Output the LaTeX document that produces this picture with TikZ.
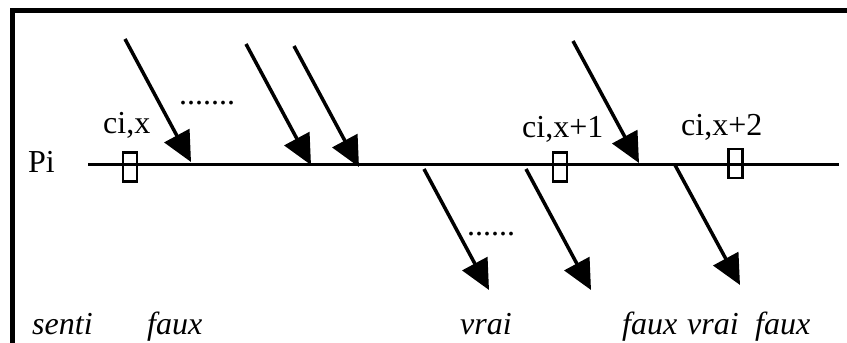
\documentclass[tikz,border=0pt]{standalone}
\usepackage{fontspec}
\setmainfont{Liberation Serif}
\usetikzlibrary{arrows.meta}
\begin{document}
\begin{tikzpicture}[x=1pt,y=-1pt,
  lbl/.style={anchor=base west,inner sep=0pt,font=\fontsize{32}{32}\selectfont},
  ilbl/.style={lbl,font=\fontsize{32}{32}\selectfont\itshape},
  cell/.style={draw,line width=2.5pt,minimum width=14pt,minimum height=29pt,inner sep=0pt},
  arr/.style={line width=3.5pt,-{Triangle[length=30pt,width=28pt]}},
  frame/.style={line width=4.5pt}]
\useasboundingbox (0,0) rectangle (847,343);
% frame
\coordinate (fl) at (12.5,343);
\coordinate (fc) at (12.5,10.5);
\coordinate (fr) at (847,10.5);
\draw[frame] (fl) -- (fc) -- (fr);
% main line
\node[lbl] (pi) at (28,172) {Pi};
\coordinate (ls) at (88,164.5);
\coordinate (le) at (839,164.5);
\draw[line width=3pt] (ls) -- (le);
% cells
\node[cell] (c1) at (130,167) {};
\node[cell] (c2) at (560,167) {};
\node[cell] (c3) at (735.5,163.5) {};
\node[lbl] (l1) at (103,133) {ci,x};
\node[lbl] (l2) at (522,137) {ci,x+1};
\node[lbl] (l3) at (681,135) {ci,x+2};
% incoming arrows
\coordinate (a1s) at (125,39);  \coordinate (a1e) at (191,162);
\coordinate (a2s) at (246,44);  \coordinate (a2e) at (311,165);
\coordinate (a3s) at (294,46);  \coordinate (a3e) at (359,167);
\coordinate (a4s) at (573,41);  \coordinate (a4e) at (639,163);
\draw[arr] (a1s) -- (a1e);
\draw[arr] (a2s) -- (a2e);
\draw[arr] (a3s) -- (a3e);
\draw[arr] (a4s) -- (a4e);
% outgoing arrows
\coordinate (b1s) at (424,169); \coordinate (b1e) at (489,290);
\coordinate (b2s) at (526,169); \coordinate (b2e) at (591,290);
\coordinate (b3s) at (675,165); \coordinate (b3e) at (740,285);
\draw[arr] (b1s) -- (b1e);
\draw[arr] (b2s) -- (b2e);
\draw[arr] (b3s) -- (b3e);
% dots
\node[lbl] (d1) at (179,104) {.......};
\node[lbl] (d2) at (467,235) {......};
% bottom labels
\node[ilbl] (s) at (32,334) {senti};
\node[ilbl] (f1) at (147,334) {faux};
\node[ilbl] (v1) at (460,334) {vrai};
\node[ilbl] (f2) at (622,334) {faux};
\node[ilbl] (v2) at (687,334) {vrai};
\node[ilbl] (f3) at (755,334) {faux};
\end{tikzpicture}
\end{document}
